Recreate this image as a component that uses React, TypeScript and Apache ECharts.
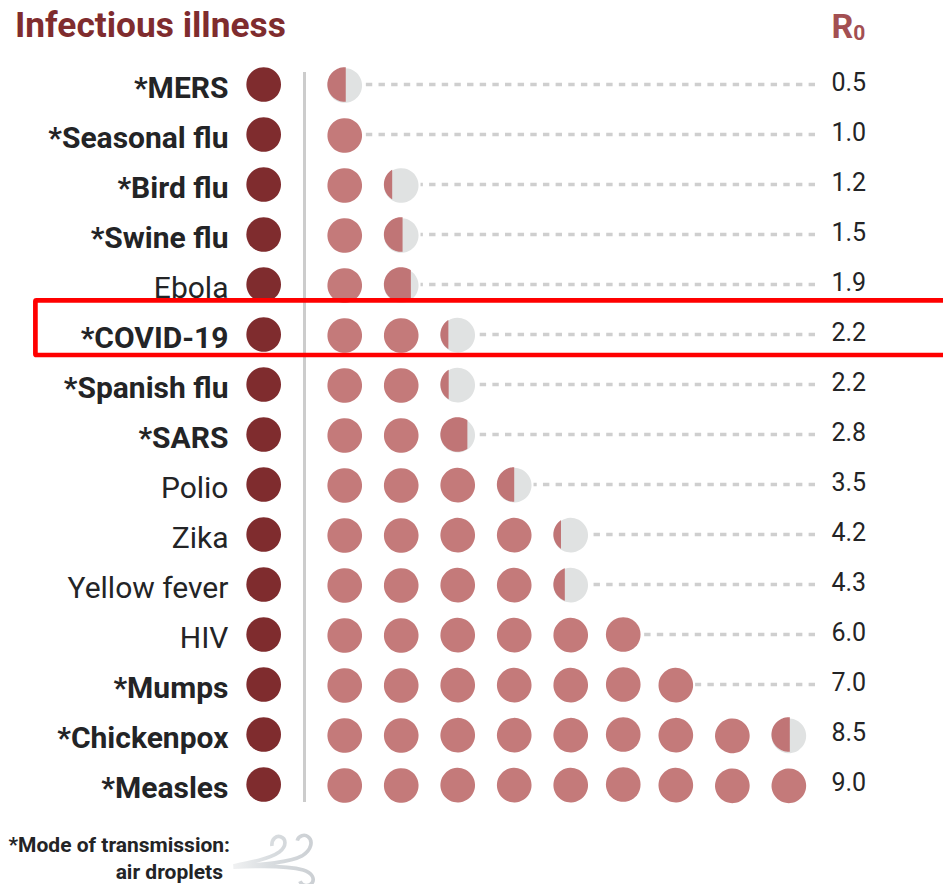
import React, { useEffect, useRef } from "react";
import * as echarts from "echarts";

const illnesses = ["*MERS", "*Seasonal flu", "*Bird flu", "*Swine flu", "Ebola", "*COVID-19", "*Spanish flu", "*SARS", "Polio", "Zika", "Yellow fever", "HIV", "*Mumps", "*Chickenpox", "*Measles"];
const r0Values = [0.5, 1.0, 1.2, 1.5, 1.9, 2.2, 2.2, 2.8, 3.5, 4.2, 4.3, 6.0, 7.0, 8.5, 9.0];
// Share of the last circle's width that is coloured
const lastCircleShare = [0.53, 1, 0.24, 0.54, 0.78, 0.23, 0.24, 0.78, 0.5, 0.22, 0.33, 1, 1, 0.53, 1];
// The columns of the picture are not evenly spaced: correction in axis units
const columnNudge = [0, 0, 0, 0, 0, -0.07, -0.14, -0.14, -0.14];

const FONT = "Roboto";
const DARK = "#7f2c2e";
const MID = "#c47a7a";
const PALE = "#e0e2e2";
const DASH = "#cfcfcf";
const INK = "#232426";

const WIND_PATH =
  "M186 78 C184 56 200 46 212 50 C228 55 232 78 208 96 C180 116 120 128 70 138 " +
  "M262 62 C266 46 284 42 294 50 C310 62 306 90 276 108 C240 128 150 134 70 140 " +
  "M70 142 C140 138 230 136 280 150 C306 158 316 176 306 190 C296 202 276 198 270 184";

function renderRow(params: any, api: any) {
  const row = api.value(0);
  const r0 = api.value(1);
  const share = api.value(2);
  const slots = Math.ceil(r0);
  const y = api.coord([0, row])[1];
  const r = api.size([1, 0])[0] * 0.3065;
  const children: any[] = [];
  const slotX = (i: number) => api.coord([i + 0.5 + columnNudge[i], row])[0];

  const lastX = slotX(slots - 1);
  if (slots < columnNudge.length) {
    children.push({
      type: "line",
      shape: { x1: api.coord([8.824, row])[0], y1: y, x2: lastX + r + 2, y2: y },
      style: { stroke: DASH, lineWidth: 3.4, lineDash: [6.4, 6.25] },
    });
  }
  children.push({
    type: "circle",
    shape: { cx: api.coord([-0.934, row])[0], cy: y, r },
    style: { fill: DARK },
  });
  for (let i = 0; i < slots; i++) {
    const cx = slotX(i);
    const s = i === slots - 1 ? share : 1;
    if (s >= 1) {
      children.push({ type: "circle", shape: { cx, cy: y, r }, style: { fill: MID } });
    } else {
      children.push({ type: "circle", shape: { cx, cy: y, r }, style: { fill: PALE } });
      const end = Math.acos(1 - 2 * s);
      const points: number[][] = [];
      for (let k = 0; k <= 60; k++) {
        const a = Math.PI - end + (2 * end * k) / 60;
        points.push([cx + r * Math.cos(a), y + r * Math.sin(a)]);
      }
      children.push({ type: "polygon", shape: { points }, style: { fill: "#c07576" } });
    }
  }
  return { type: "group", children };
}

export default function App() {
  const ref = useRef<HTMLDivElement>(null);
  useEffect(() => {
    document.body.style.margin = "0";
    if (!ref.current) return;
    echarts.graphic.registerShape("wind", echarts.graphic.extendPath(WIND_PATH as any, {}) as any);
    const chart = echarts.init(ref.current, null, { renderer: "svg" });
    chart.setOption({
      animation: false,
      backgroundColor: "#fff",
      title: {
        text: "Infectious illness",
        left: 15,
        top: 7,
        padding: 0,
        textStyle: { fontFamily: FONT, fontSize: 35.3, fontWeight: 700, color: DARK },
      },
      grid: { left: 316.45, top: 59.5, width: 508.5, height: 750 },
      xAxis: { type: "value", min: 0, max: 9, interval: 1, show: false },
      yAxis: [
        {
          type: "category",
          inverse: true,
          position: "left",
          data: illnesses,
          axisLine: { show: false },
          axisTick: { show: false },
          splitLine: { show: false },
          axisLabel: {
            interval: 0,
            margin: 88,
            formatter: (v: string) => (v.startsWith("*") ? `{b|${v}}` : `{r|${v}}`),
            rich: {
              b: { fontFamily: FONT, fontSize: 30, fontWeight: 700, color: INK, padding: [6, 0, 0, 0] },
              r: { fontFamily: FONT, fontSize: 30, fontWeight: 400, color: INK, padding: [6, 0, 0, 0] },
            },
          },
        },
        {
          type: "category",
          inverse: true,
          position: "right",
          data: r0Values.map((v) => v.toFixed(1)),
          axisLine: { show: false },
          axisTick: { show: false },
          splitLine: { show: false },
          axisLabel: {
            interval: 0,
            margin: 6.5,
            formatter: (v: string) => `{v|${v}}`,
            rich: {
              v: { fontFamily: FONT, fontSize: 25, color: INK, padding: [0, 0, 4, 0] },
            },
          },
        },
      ],
      series: [
        {
          type: "custom",
          coordinateSystem: "cartesian2d",
          xAxisIndex: 0,
          yAxisIndex: 0,
          silent: true,
          clip: false,
          encode: { y: 0, x: 1 },
          data: illnesses.map((_, i) => [i, r0Values[i], lastCircleShare[i]]),
          renderItem: renderRow,
        },
      ],
      graphic: [
        {
          type: "line",
          silent: true,
          shape: { x1: 304.5, y1: 72, x2: 304.5, y2: 802 },
          style: { stroke: "#cccccc", lineWidth: 3 },
        },
        {
          type: "text",
          silent: true,
          x: 831.5,
          y: 8,
          style: {
            text: "{r|R}{s|0}",
            rich: {
              r: { fontFamily: FONT, fontSize: 34, fontWeight: 700, fill: "#a34f52", color: "#a34f52" },
              s: { fontFamily: FONT, fontSize: 21, fontWeight: 700, fill: "#a34f52", color: "#a34f52", padding: [14, 0, 0, 0] },
            },
          },
        },
        {
          type: "text",
          silent: true,
          x: 230,
          y: 845,
          style: {
            text: "*Mode of transmission:",
            align: "right",
            verticalAlign: "middle",
            fontFamily: FONT,
            fontSize: 21,
            fontWeight: 700,
            fill: INK,
          },
        },
        {
          type: "text",
          silent: true,
          x: 223,
          y: 872,
          style: {
            text: "air droplets",
            align: "right",
            verticalAlign: "middle",
            fontFamily: FONT,
            fontSize: 21,
            fontWeight: 700,
            fill: INK,
          },
        },
        {
          type: "wind",
          silent: true,
          x: 210,
          y: 820,
          scaleX: 1 / 3,
          scaleY: 1 / 3,
          style: {
            fill: "none",
            lineWidth: 11,
            stroke: new echarts.graphic.LinearGradient(0, 0, 1, 0, [
              { offset: 0, color: "#f0f1f2" },
              { offset: 0.45, color: "#d9dde0" },
              { offset: 1, color: "#ccd0d4" },
            ]),
          },
        },
        {
          type: "rect",
          silent: true,
          z: 100,
          shape: { x: 35.4, y: 300.3, width: 940, height: 54.7, r: 1 },
          style: { fill: "none", stroke: "#ff0000", lineWidth: 4.7 },
        },
      ],
    });
    return () => chart.dispose();
  }, []);
  return <div ref={ref} style={{ position: "absolute", left: 0, top: 0, width: 943, height: 884 }} />;
}
